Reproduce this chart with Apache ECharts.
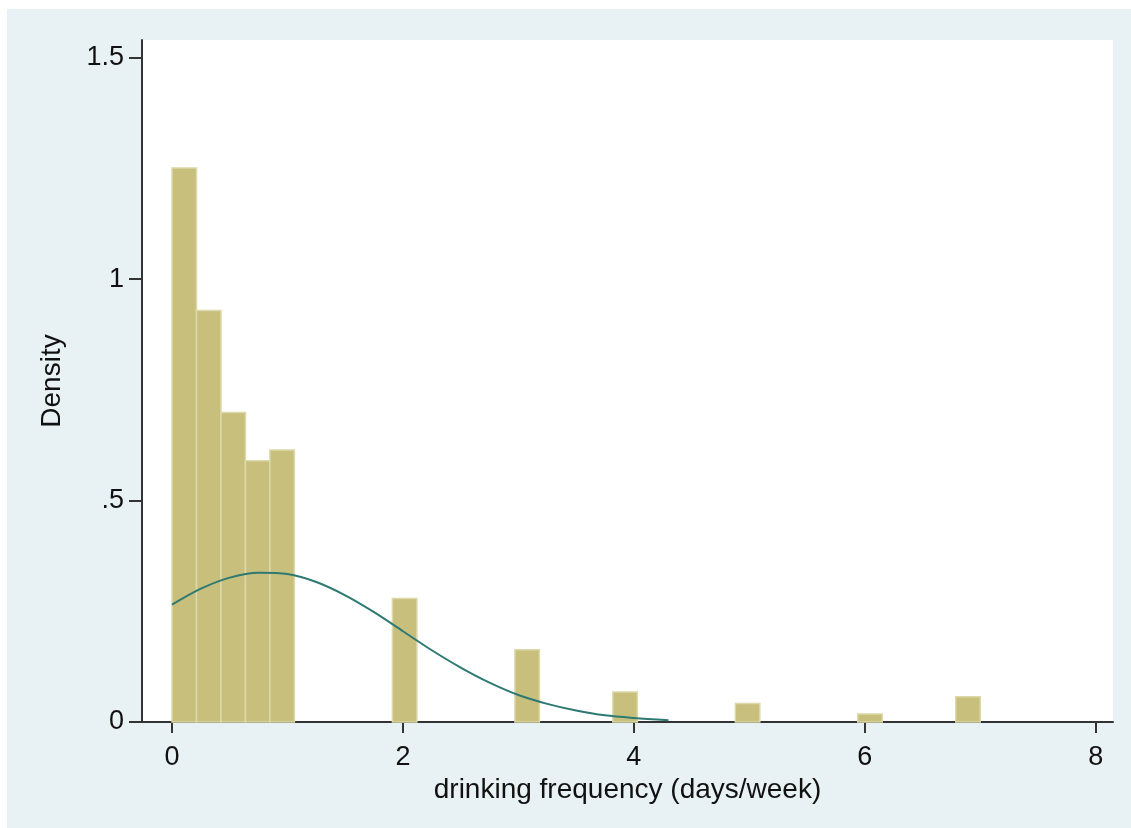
<!DOCTYPE html>
<html>
<head>
    <meta charset="utf-8">
    <title>Histogram</title>
    <script src="https://cdn.jsdelivr.net/npm/echarts@6/dist/echarts.min.js"></script>
    <style>
        *{margin: 0;padding: 0;}
        body{background: #fff;}
        #main{position: absolute; left: 7px; top: 9px; width: 1124px; height: 819px;}
    </style>
</head>
<body>
    <div id="main"></div>
    <script type="text/javascript">
        // histogram bins (left edge, days/week) and density
        var binWidth = 0.212;
        var binStarts = [0, 0.212, 0.424, 0.636, 0.848, 1.909, 2.970, 3.818, 4.879, 5.939, 6.788];
        var density = [1.251, 0.929, 0.699, 0.590, 0.614, 0.279, 0.163, 0.068, 0.042, 0.018, 0.057];

        // normal density overlay
        var curveX = [0, 0.25, 0.5, 0.75, 1.0, 1.25, 1.5, 1.75, 2.0, 2.25, 2.5, 2.75, 3.0, 3.25, 3.5, 3.75, 4.0, 4.3];
        var curveY = [0.265, 0.301, 0.326, 0.337, 0.334, 0.316, 0.286, 0.248, 0.205, 0.162, 0.123, 0.089, 0.061, 0.041, 0.026, 0.015, 0.009, 0.004];

        var xTicks = [0, 2, 4, 6, 8];
        var yTicks = [0, 0.5, 1, 1.5];

        var font = "'Liberation Sans', Arial, sans-serif";

        var bars = binStarts.map(function (s, i) { return [s, s + binWidth, density[i]]; });
        var curve = curveX.map(function (x, i) { return [x, curveY[i]]; });

        var myChart = echarts.init(document.getElementById('main'));

        var option = {
            backgroundColor: '#e8f1f3',
            animation: false,
            grid: {
                left: 135, right: 18, top: 31, bottom: 106,
                show: true, backgroundColor: '#fff', borderWidth: 0
            },
            xAxis: {
                type: 'value',
                min: -0.26, max: 8.15,
                name: 'drinking frequency (days/week)',
                nameLocation: 'middle',
                nameGap: 53,
                nameTextStyle: {fontFamily: font, fontSize: 28, color: '#111'},
                axisLine: {show: true, onZero: false, lineStyle: {color: '#333', width: 2}},
                axisTick: {show: true, customValues: xTicks, length: 11, lineStyle: {color: '#333', width: 2}},
                axisLabel: {customValues: xTicks, fontFamily: font, fontSize: 27, color: '#111', margin: 22},
                splitLine: {show: false}
            },
            yAxis: {
                type: 'value',
                min: 0, max: 1.54,
                name: 'Density',
                nameLocation: 'middle',
                nameGap: 76,
                nameTextStyle: {fontFamily: font, fontSize: 28, color: '#111'},
                axisLine: {show: true, onZero: false, lineStyle: {color: '#333', width: 2}},
                axisTick: {show: true, customValues: yTicks, length: 13, lineStyle: {color: '#333', width: 2}},
                axisLabel: {
                    customValues: yTicks, fontFamily: font, fontSize: 27, color: '#111', margin: 18,
                    formatter: function (v) { return v === 0 ? '0' : String(v).replace(/^0\./, '.'); }
                },
                splitLine: {show: false}
            },
            series: [
                {
                    type: 'custom',
                    data: bars,
                    renderItem: function (params, api) {
                        var p0 = api.coord([api.value(0), api.value(2)]);
                        var p1 = api.coord([api.value(1), 0]);
                        return {
                            type: 'rect',
                            shape: {x: p0[0], y: p0[1], width: p1[0] - p0[0], height: p1[1] - p0[1]},
                            style: {fill: '#c8bf7d', stroke: '#dcd8a8', lineWidth: 1.5}
                        };
                    },
                    encode: {x: [0, 1], y: 2}
                },
                {
                    type: 'line',
                    data: curve,
                    smooth: 0.3,
                    symbol: 'none',
                    lineStyle: {color: '#2e7a72', width: 2}
                }
            ]
        };

        myChart.setOption(option);
    </script>
</body>
</html>
